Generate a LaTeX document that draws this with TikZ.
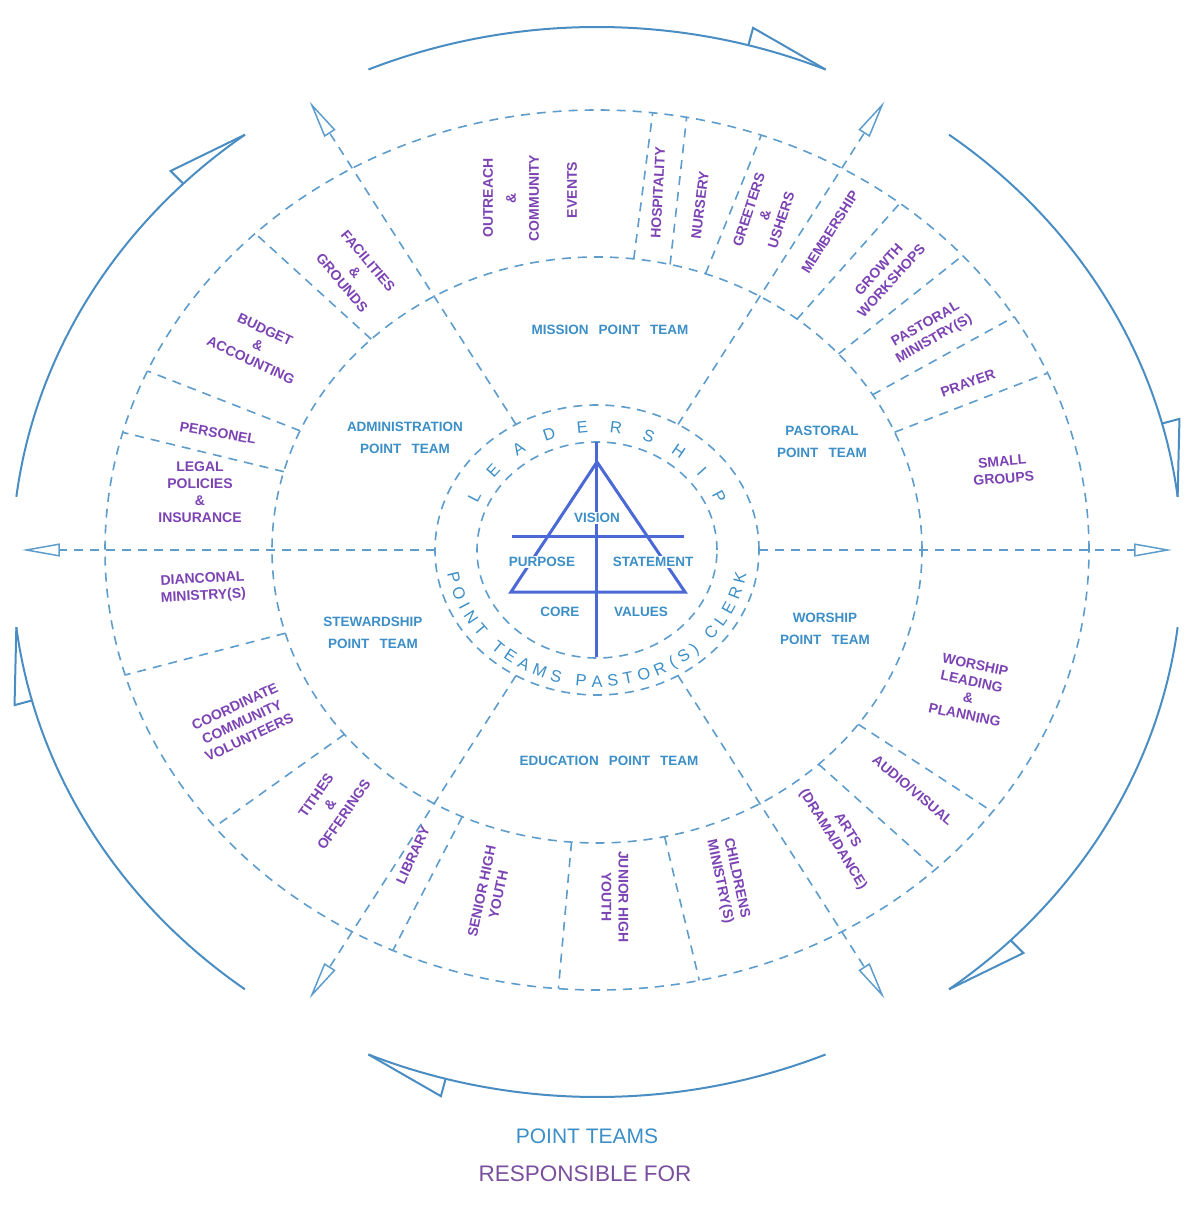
\documentclass[tikz,border=0pt]{standalone}
\usepackage{fontspec}
\setmainfont{Liberation Sans}
\usetikzlibrary{arrows.meta,decorations.text}
\definecolor{ringblue}{HTML}{5E9DCB}
\definecolor{arcblue}{HTML}{4A8DC2}
\definecolor{teamblue}{HTML}{3B8EC6}
\definecolor{triblue}{HTML}{4A68D6}
\definecolor{dutyviolet}{HTML}{7B43B3}
\definecolor{titleviolet}{HTML}{7A4F9E}
\newcommand\widespaces{\spaceskip=0.75em\relax}
\tikzset{
  ring/.style    = {draw=ringblue, line width=1.6pt, dash pattern=on 9pt off 7pt},
  spoke/.style   = {ring, -{Triangle[open, length=38pt, width=13pt, line width=1.5pt]}},
  turn/.style    = {draw=arcblue, line width=2pt},
  triline/.style = {draw=triblue, line width=3pt},
  team/.style    = {text=teamblue, align=center,
                    font=\bfseries\fontsize{13.5}{22}\selectfont\widespaces},
  core/.style    = {team, fill=white, inner sep=1pt},
  duty/.style    = {text=dutyviolet, font=\bfseries\fontsize{14}{17}\selectfont,
                    align=center, inner sep=1pt},
}

\begin{document}
\begin{tikzpicture}[x=1pt, y=1pt]
\useasboundingbox (-597,-655) rectangle (591,550);
\coordinate (hub) at (0,0);
% ---------- dashed rings ----------
\draw[ring] (hub) ellipse [x radius=120, y radius=108];
\draw[ring] (hub) ellipse [x radius=162, y radius=145];
\draw[ring] (hub) ellipse [x radius=325, y radius=293];
\draw[ring] (hub) ellipse [x radius=492, y radius=440];
% ---------- spokes ----------
\foreach \a in {0,60,...,300}
  \draw[spoke] (\a:162 and 145) -- (\a:575 and 518);
% dividers of the outer ring
\foreach \i/\o in {83.5/83.5, 77/79.5, 70.5/70.5, 52/52, 42/42, 32/32, 23.7/23.7,
                   -36.5/-36.5, -47/-46.5, 282/282, 265.5/265.5, 245.5/245.5,
                   219/219, 196.5/196.5, 164.5/164.5, 156/156, 134/134}
  \draw[ring] (\i:325 and 293) -- (\o:492 and 440);
% ---------- turning arcs ----------
\begin{scope}[shift={(0,-12)}]
\foreach \c [evaluate=\c as \s using \c+23, evaluate=\c as \e using \c-23,
             evaluate=\c as \b using \c-15] in {90,30,-30,-90,-150,150} {
  \draw[turn] (\s:585 and 535) arc[start angle=\s, end angle=\e,
                                   x radius=585, y radius=535];
  \draw[turn, line join=miter] (\e:585 and 535) -- (\b:603 and 553) -- (\b:585 and 535);
}
\end{scope}
% ---------- leadership triangle ----------
\draw[triline] (0,108) -- (0,-107);
\draw[triline] (-85,14) -- (87,14);
\draw[triline, line join=miter] (0,88) -- (-86,-42) -- (88,-42) -- cycle;
\node[core] (vision)    at (0,32)    {VISION};
\node[core] (purpose)   at (-55,-12) {PURPOSE};
\node[core] (statement) at (56,-12)  {STATEMENT};
\node[team] (corew)     at (-37,-62) {CORE};
\node[team] (values)    at (44,-62)  {VALUES};
% ring lettering
\path[decorate, decoration={text along path, text align=fit to path,
      text={|\color{teamblue}\fontsize{16.5}{16.5}\selectfont|LEADERSHIP}}]
  (157:130 and 118) arc[start angle=157, end angle=23, x radius=130, y radius=118];
\path[decorate, decoration={text along path, text align=fit to path,
      text={|\color{teamblue}\fontsize{16.5}{16.5}\selectfont|POINT TEAMS PASTOR(S) CLERK}}]
  (190:152 and 137) arc[start angle=190, end angle=350, x radius=152, y radius=137];
% ---------- point teams ----------
\node[team] (mission)  at (13,220)   {MISSION POINT TEAM};
\node[team] (pastoral) at (225,108)  {PASTORAL\\POINT TEAM};
\node[team] (worship)  at (228,-79)  {WORSHIP\\POINT TEAM};
\node[team] (educ)     at (12,-211)  {EDUCATION POINT TEAM};
\node[team] (steward)  at (-224,-83) {STEWARDSHIP\\POINT TEAM};
\node[team] (admin)    at (-192,112) {ADMINISTRATION\\POINT TEAM};
% ---------- responsibilities ----------
\node[duty, rotate=90]  (outreach) at (-86,352)  {OUTREACH\\[6pt]\&\\[6pt]COMMUNITY};
\node[duty, rotate=90]  (events)   at (-25,360)  {EVENTS};
\node[duty, rotate=87]  (hosp)     at (61,357)   {HOSPITALITY};
\node[duty, rotate=83]  (nursery)  at (103,345)  {NURSERY};
\node[duty, rotate=72]  (greeters) at (168,335)  {GREETERS\\\&\\USHERS};
\node[duty, rotate=58]  (member)   at (233,318)  {MEMBERSHIP};
\node[duty, rotate=48]  (growth)   at (288,275)  {GROWTH\\WORKSHOPS};
\node[duty, rotate=30]  (pastmin)  at (333,218)  {PASTORAL\\MINISTRY(S)};
\node[duty, rotate=20]  (prayer)   at (371,167)  {PRAYER};
\node[duty, rotate=5]   (small)    at (406,80)   {SMALL\\GROUPS};
\node[duty, rotate=-12] (leading)  at (373,-140) {WORSHIP\\LEADING\\\&\\PLANNING};
\node[duty, rotate=-40] (audio)    at (316,-240) {AUDIO/VISUAL};
\node[duty, rotate=-58] (arts)     at (243,-285) {ARTS\\(DRAMA/DANCE)};
\node[duty, rotate=-78] (children) at (131,-330) {CHILDRENS\\MINISTRY(S)};
\node[duty, rotate=-90] (junior)   at (18,-347)  {JUNIOR HIGH\\YOUTH};
\node[duty, rotate=78]  (senior)   at (-107,-343) {SENIOR HIGH\\YOUTH};
\node[duty, rotate=65]  (library)  at (-184,-305) {LIBRARY};
\node[duty, rotate=55]  (tithes)   at (-267,-255) {TITHES\\\&\\OFFERINGS};
\node[duty, rotate=25]  (volunt)   at (-355,-172) {COORDINATE\\COMMUNITY\\VOLUNTEERS};
\node[duty, rotate=3]   (deacon)   at (-394,-38)  {DIANCONAL\\MINISTRY(S)};
\node[duty]             (legal)    at (-397,58)   {LEGAL\\POLICIES\\\&\\INSURANCE};
\node[duty, rotate=-10] (personel) at (-379,117)  {PERSONEL};
\node[duty, rotate=-25] (budget)   at (-339,205)  {BUDGET\\\&\\ACCOUNTING};
\node[duty, rotate=-50] (facil)    at (-242,278)  {FACILITIES\\\&\\GROUNDS};
% ---------- caption ----------
\node[text=teamblue, font=\fontsize{21}{21}\selectfont] (capa) at (-10,-586) {POINT TEAMS};
\node[text=titleviolet, font=\fontsize{22.5}{22.5}\selectfont] (capb) at (-12,-624) {RESPONSIBLE FOR};
\end{tikzpicture}
\end{document}
